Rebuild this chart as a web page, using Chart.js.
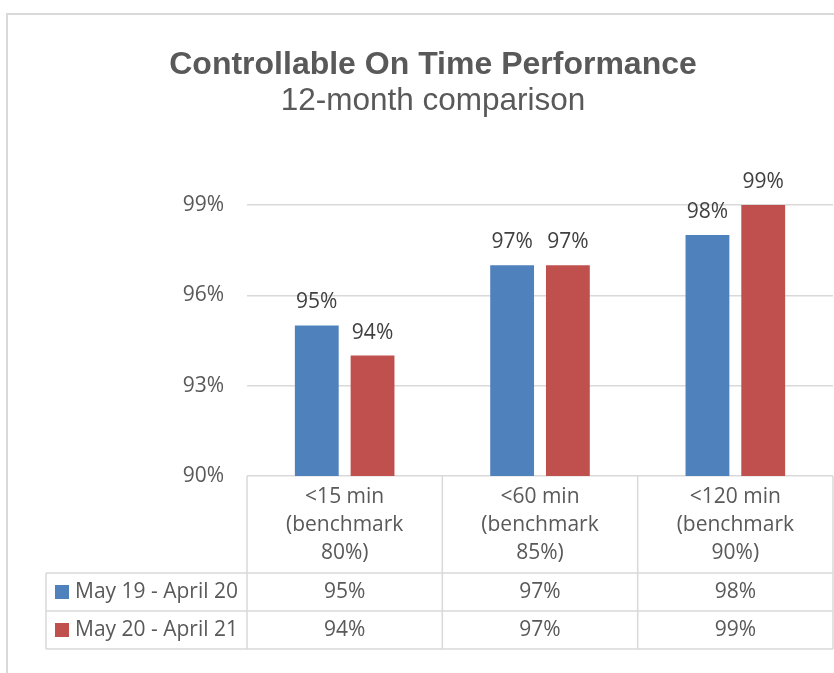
<!DOCTYPE html>
<html>
<head>
<meta charset="utf-8">
<script src="https://cdn.jsdelivr.net/npm/chart.js@4.4.1/dist/chart.umd.min.js"></script>
<style>
  html, body { margin: 0; padding: 0; background: #fff; overflow: hidden; }
  #wrap { width: 834px; height: 673px; position: relative; }
</style>
</head>
<body>
<div id="wrap"><canvas id="otpChart"></canvas></div>
<script>
// 데이터
const titleText = 'Controllable On Time Performance';
const subtitleText = '12-month comparison';
const categories = [
    ['<15 min', '(benchmark', '80%)'],
    ['<60 min', '(benchmark', '85%)'],
    ['<120 min', '(benchmark', '90%)']
];
const seriesNames = ['May 19 - April 20', 'May 20 - April 21'];
const series1 = [95, 97, 98];
const series2 = [94, 97, 99];
const yTicks = [90, 93, 96, 99];

const BLUE = '#4F81BD';
const RED = '#C0504D';
const LINE = '#d9d9d9';
const TEXT = '#595959';
const FONT = '"Open Sans", sans-serif';

// 제목, 테두리, 데이터 라벨, 데이터 테이블을 그리는 플러그인
const excelPlugin = {
    id: 'excelLook',
    beforeDraw(chart) {
        const ctx = chart.ctx;
        ctx.save();
        // 차트 테두리
        ctx.strokeStyle = LINE;
        ctx.lineWidth = 2;
        ctx.beginPath();
        ctx.moveTo(7, 673);
        ctx.lineTo(7, 14);
        ctx.lineTo(834, 14);
        ctx.stroke();

        // 제목
        ctx.fillStyle = TEXT;
        ctx.textAlign = 'center';
        ctx.textBaseline = 'alphabetic';
        ctx.font = 'bold 32px "Liberation Sans", Arial, sans-serif';
        ctx.fillText(titleText, 433, 74);
        ctx.font = '31.5px "Liberation Sans", Arial, sans-serif';
        ctx.fillText(subtitleText, 433, 110);
        ctx.restore();
    },
    afterDatasetsDraw(chart) {
        const ctx = chart.ctx;
        ctx.save();
        ctx.fillStyle = '#404040';
        ctx.font = '21px ' + FONT;
        ctx.textAlign = 'center';
        ctx.textBaseline = 'middle';
        chart.data.datasets.forEach((ds, di) => {
            const meta = chart.getDatasetMeta(di);
            meta.data.forEach((bar, i) => {
                ctx.fillText(ds.data[i] + '%', bar.x, bar.y - 23);
            });
        });
        ctx.restore();
    },
    afterDraw(chart) {
        const ctx = chart.ctx;
        const xs = chart.scales.x;
        const area = chart.chartArea;
        const colW = (area.right - area.left) / categories.length;
        const top = area.bottom;
        const headBottom = 573;
        const rowH = 38;
        const tableLeft = 46;
        const tableBottom = headBottom + rowH * seriesNames.length;

        ctx.save();
        ctx.strokeStyle = LINE;
        ctx.lineWidth = 1.5;
        ctx.beginPath();
        // 세로선
        for (let i = 0; i <= categories.length; i++) {
            const x = area.left + colW * i;
            ctx.moveTo(x, top);
            ctx.lineTo(x, tableBottom);
        }
        ctx.moveTo(tableLeft, headBottom);
        ctx.lineTo(tableLeft, tableBottom);
        // 가로선
        for (let r = 0; r <= seriesNames.length; r++) {
            const y = headBottom + rowH * r;
            ctx.moveTo(tableLeft, y);
            ctx.lineTo(area.right, y);
        }
        ctx.stroke();

        ctx.fillStyle = TEXT;
        ctx.font = '21px ' + FONT;
        ctx.textAlign = 'center';
        ctx.textBaseline = 'middle';
        // 헤더 (카테고리)
        categories.forEach((lines, i) => {
            const cx = xs.getPixelForValue(i);
            lines.forEach((t, k) => {
                ctx.fillText(t, cx, 497 + k * 28);
            });
        });
        // 값
        const colors = [BLUE, RED];
        chart.data.datasets.forEach((ds, di) => {
            const cy = headBottom + rowH * di + rowH / 2;
            ds.data.forEach((v, i) => {
                ctx.fillStyle = TEXT;
                ctx.textAlign = 'center';
                ctx.fillText(v + '%', xs.getPixelForValue(i), cy);
            });
            // 범례
            ctx.fillStyle = colors[di];
            ctx.fillRect(55, cy - 7, 14, 14);
            ctx.fillStyle = TEXT;
            ctx.textAlign = 'left';
            ctx.fillText(seriesNames[di], 75, cy);
        });
        ctx.restore();
    }
};

const ctx = document.getElementById('otpChart').getContext('2d');
new Chart(ctx, {
    type: 'bar',
    data: {
        labels: categories,
        datasets: [
            { label: seriesNames[0], data: series1, backgroundColor: BLUE, borderWidth: 0 },
            { label: seriesNames[1], data: series2, backgroundColor: RED, borderWidth: 0 }
        ]
    },
    options: {
        responsive: true,
        maintainAspectRatio: false,
        animation: false,
        categoryPercentage: 0.571,
        barPercentage: 0.786,
        layout: { padding: { top: 205, bottom: 197, left: 0, right: 1 } },
        plugins: {
            legend: { display: false },
            title: { display: false },
            tooltip: { enabled: false }
        },
        scales: {
            x: { display: false },
            y: {
                min: yTicks[0],
                max: yTicks[yTicks.length - 1],
                afterBuildTicks: scale => {
                    scale.ticks = yTicks.map(v => ({ value: v }));
                },
                afterFit: scale => { scale.width = 247; },
                border: { display: false },
                grid: { color: LINE, lineWidth: 1.5, drawTicks: false },
                ticks: {
                    padding: 23,
                    color: TEXT,
                    font: { family: FONT, size: 21 },
                    callback: v => v + '%'
                }
            }
        }
    },
    plugins: [excelPlugin]
});
</script>
</body>
</html>
